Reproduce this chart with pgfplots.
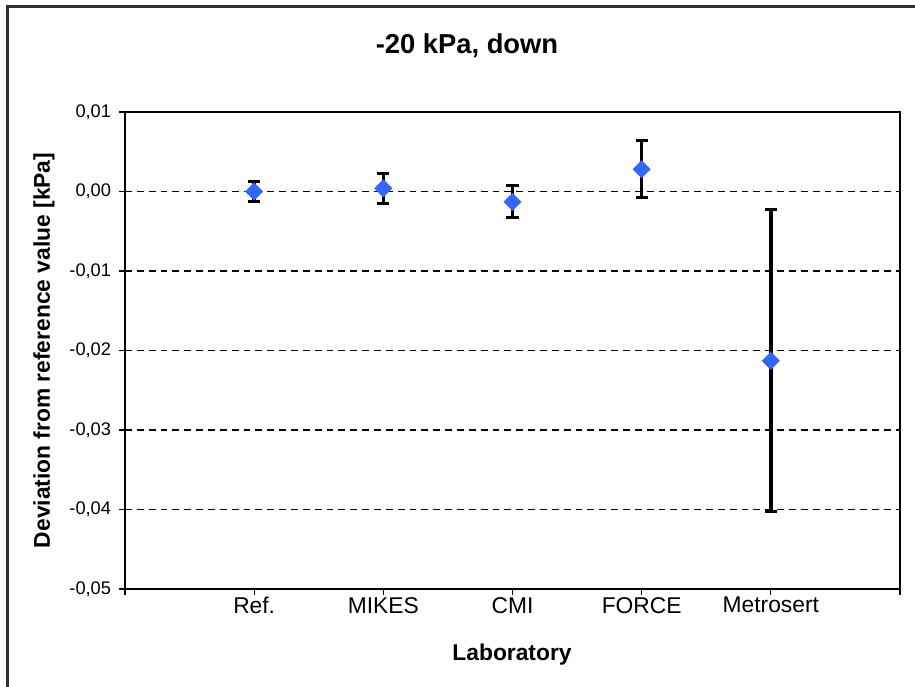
\documentclass[border=0pt]{standalone}
\usepackage{pgfplots}
\pgfplotsset{compat=1.18}
\usepackage{fontspec}
\setmainfont{Liberation Sans}
\definecolor{markblue}{RGB}{51,102,255}
\definecolor{framegray}{RGB}{50,50,50}

% values: x, deviation, half-width of error bar
\pgfplotstableread{
x  y        e
1  0.0000   0.0013
2  0.0004   0.0019
3 -0.0013   0.0020
4  0.0028   0.0036
5 -0.0213   0.0190
}\labdata

\begin{document}
\begin{tikzpicture}
% page = 915 x 687 px, 1px = 0.43859pt
\useasboundingbox (0,0) rectangle (401.31pt,-301.31pt);
\draw[framegray, line width=0.9pt] (3.29pt,-310pt) -- (3.29pt,-2.85pt) -- (410pt,-2.85pt);

\begin{axis}[
    at={(54.82pt,-258.33pt)},
    anchor=south west,
    scale only axis,
    width=339.91pt,
    height=209.21pt,
    xmin=0, xmax=6,
    ymin=-0.05, ymax=0.01,
    xtick={0,1,2,3,4,5,6},
    xticklabels={,Ref.,MIKES,CMI,FORCE,Metrosert,},
    ytick={-0.05,-0.04,-0.03,-0.02,-0.01,0,0.01},
    xtick pos=bottom, ytick pos=left,
    tick align=outside,
    major tick length=2.6pt,
    tick style={black, line width=0.45pt},
    axis line style={line width=0.9pt},
    ymajorgrids,
    grid style={black, line width=0.45pt, dash pattern=on 3pt off 2.2pt},
    yticklabel style={font=\fontsize{8}{9}\selectfont,
        /pgf/number format/fixed, /pgf/number format/fixed zerofill,
        /pgf/number format/precision=2, /pgf/number format/use comma,
        /pgf/number format/assume math mode=true},
    xticklabel style={font=\fontsize{10}{12}\selectfont, yshift=2.5pt},
    scaled y ticks=false,
    clip=false,
]
\addplot+[only marks, mark=square*, mark size=2.6pt,
    mark options={rotate=45, fill=markblue, draw=markblue},
    error bars/.cd, y dir=both, y explicit,
    error bar style={black, line width=1.6pt},
    error mark options={rotate=90, mark size=2.7pt, line width=1.3pt, black}]
    table[x=x, y=y, y error=e] {\labdata};
\end{axis}

\node[font=\fontsize{12}{14}\selectfont\bfseries] at (204.82pt,-20.18pt) {-20 kPa, down};
\node[font=\fontsize{10}{12}\selectfont\bfseries, rotate=90] at (19.3pt,-153.7pt) {Deviation from reference value [kPa]};
\node[font=\fontsize{10}{12}\selectfont\bfseries] at (224.56pt,-287.2pt) {Laboratory};
\end{tikzpicture}
\end{document}
